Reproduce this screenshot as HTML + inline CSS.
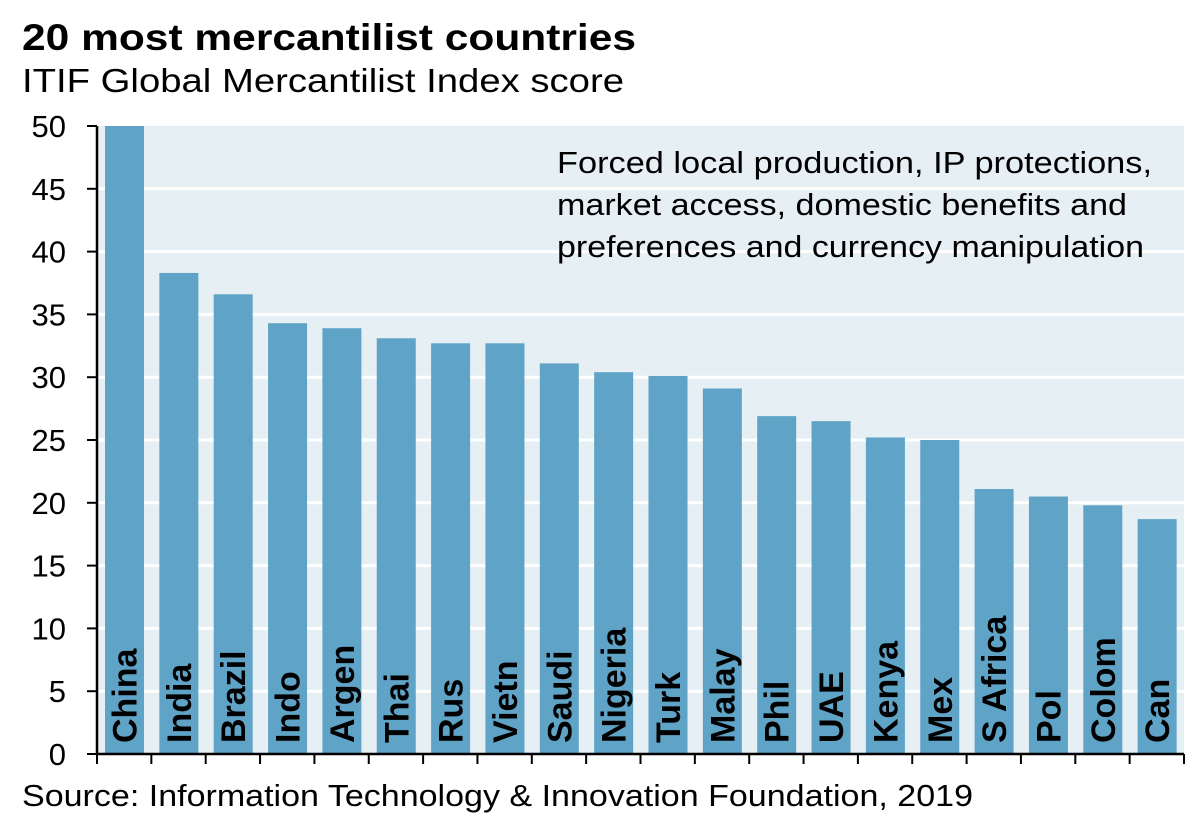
<!DOCTYPE html>
<html><head><meta charset="utf-8"><style>
body{margin:0;background:#fff;}
svg{display:block;font-family:"Liberation Sans",Arial,sans-serif;}
</style></head><body>
<svg id="chart" width="1204" height="824" viewBox="0 0 1204 824">
<text x="22" y="50" font-size="37" font-weight="bold" fill="#000" textLength="614" lengthAdjust="spacingAndGlyphs">20 most mercantilist countries</text>
<text x="22" y="92" font-size="33" fill="#000" textLength="602" lengthAdjust="spacingAndGlyphs">ITIF Global Mercantilist Index score</text>
<rect x="97" y="126" width="1087" height="628" fill="#e6eff4"/>
<g id="grid"></g>
<g id="bars"></g>
<g id="labels"></g>
<g font-size="31" fill="#000">
<text x="557" y="173" textLength="595" lengthAdjust="spacingAndGlyphs">Forced local production, IP protections,</text>
<text x="557" y="215" textLength="570" lengthAdjust="spacingAndGlyphs">market access, domestic benefits and</text>
<text x="557" y="257" textLength="587" lengthAdjust="spacingAndGlyphs">preferences and currency manipulation</text>
</g>
<g id="axes"></g>
<text x="22" y="806" font-size="31" fill="#000" textLength="951" lengthAdjust="spacingAndGlyphs">Source: Information Technology &amp; Innovation Foundation, 2019</text>
</svg>
<script>
const categories=["China","India","Brazil","Indo","Argen","Thai","Rus","Vietn","Saudi","Nigeria","Turk","Malay","Phil","UAE","Kenya","Mex","S Africa","Pol","Colom","Can"];
const values=[50,38.3,36.6,34.3,33.9,33.1,32.7,32.7,31.1,30.4,30.1,29.1,26.9,26.5,25.2,25.0,21.1,20.5,19.8,18.7];
const yTicks=[0,5,10,15,20,25,30,35,40,45,50];
const NS="http://www.w3.org/2000/svg";
const X0=97,X1=1184,Y0=754,Y1=126,YMAX=50;
const band=(X1-X0)/categories.length;
const y=v=>Y0-(v/YMAX)*(Y0-Y1);
const bx=i=>X0+i*band;
function mk(tag,attrs,parent){const e=document.createElementNS(NS,tag);for(const k in attrs)e.setAttribute(k,attrs[k]);parent.appendChild(e);return e;}
const grid=document.getElementById('grid'),bars=document.getElementById('bars'),labels=document.getElementById('labels'),axes=document.getElementById('axes');
yTicks.forEach(t=>{
 if(t>0&&t<YMAX){const l=mk('line',{x1:X0,x2:X1,y1:y(t),y2:y(t),stroke:'#fff','stroke-width':3},grid);
 
 }
 const tk=mk('line',{x1:X0-10,x2:X0,y1:y(t),y2:y(t),stroke:'#000','stroke-width':2},axes);
 
 
 const tx=mk('text',{x:66,y:y(t)+11,'font-size':31,'text-anchor':'end',fill:'#000'},axes);
 tx.textContent=t;
 
 
});
categories.forEach((c,i)=>{
 const r=mk('rect',{x:bx(i)+8,y:y(values[i]),width:39,height:Y0-y(values[i]),fill:'#5fa3c6'},bars);
 
 
 const cx=bx(i)+8+19.5;
 const t=mk('text',{x:0,y:0,'font-size':34,'font-weight':'bold',fill:'#000',transform:`translate(${cx+12},743) rotate(-90)`},labels);
 t.textContent=c;
 
 
});
for(let i=0;i<=categories.length;i++){
 const tk=mk('line',{x1:bx(i),x2:bx(i),y1:Y0,y2:Y0+10,stroke:'#000','stroke-width':2},axes);
 
 
}
const ya=mk('line',{x1:X0,x2:X0,y1:Y1,y2:Y0+1,stroke:'#000','stroke-width':2.5},axes);


const xa=mk('line',{x1:X0,x2:X1,y1:Y0,y2:Y0,stroke:'#000','stroke-width':2.5},axes);


</script>
</body></html>
